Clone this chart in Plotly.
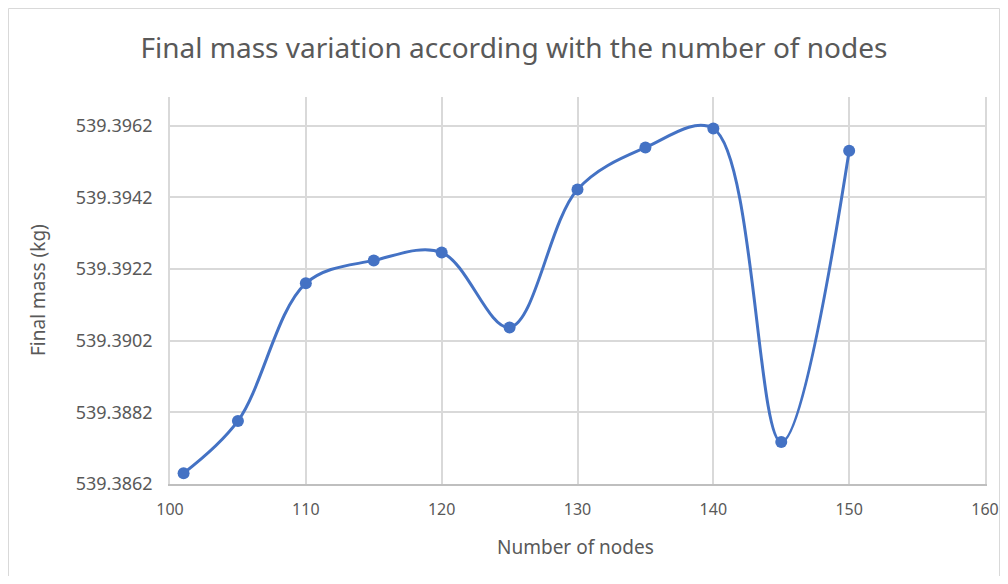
import plotly.graph_objects as go

nodes = [101, 105, 110, 115, 120, 125, 130, 135, 140, 145, 150]
final_mass = [539.38650, 539.38796, 539.39180, 539.39244, 539.39266, 539.39057,
              539.39442, 539.39559, 539.39612, 539.38737, 539.39550]

y_ticks = [539.3862, 539.3882, 539.3902, 539.3922, 539.3942, 539.3962]
x_ticks = [100, 110, 120, 130, 140, 150, 160]

# page has an 8px body margin; keep the figure inside the window
W, H = 992, 568
ml, mr, mt, mb = 162, 15, 89, 92
pw = W - ml - mr
ph = H - mt - mb

fig = go.Figure()
fig.add_trace(go.Scatter(
    x=nodes, y=final_mass, mode="lines+markers",
    line=dict(color="#4472C4", width=3, shape="spline", smoothing=1.0),
    marker=dict(color="#4472C4", size=12),
    showlegend=False,
))

fig.add_shape(type="rect", xref="paper", yref="paper",
              x0=(0.5 - ml) / pw, x1=(991.5 - ml) / pw,
              y0=1 - (600 - mt) / ph, y1=1 - (0.5 - mt) / ph,
              line=dict(color="#D9D9D9", width=1), fillcolor="rgba(0,0,0,0)", layer="below")

fig.add_annotation(text="Number of nodes", xref="paper", yref="paper",
                   x=(567 - ml) / pw, y=-(539 - (H - mb)) / ph,
                   xanchor="center", yanchor="middle", showarrow=False,
                   font=dict(size=19, color="#595959"))
fig.add_annotation(text="Final mass (kg)", xref="paper", yref="paper",
                   x=(30 - ml) / pw, y=1 - (282 - mt) / ph, textangle=-90,
                   xanchor="center", yanchor="middle", showarrow=False,
                   font=dict(size=19, color="#595959"))

fig.update_layout(
    width=W, height=H,
    margin=dict(l=ml, r=mr, t=mt, b=mb, autoexpand=False),
    paper_bgcolor="white", plot_bgcolor="white",
    font=dict(family="Noto Sans", color="#595959"),
    title=dict(text="Final mass variation according with the number of nodes",
               x=506 / W, xanchor="center", y=1 - 40 / H, yanchor="middle",
               font=dict(size=28, color="#595959")),
    xaxis=dict(range=[100, 160], tickvals=x_ticks, ticktext=[str(v) for v in x_ticks],
               automargin=False,
               showgrid=True, gridcolor="#D9D9D9", gridwidth=1.5,
               showline=True, linecolor="#BFBFBF", linewidth=1.5,
               zeroline=False, ticks="", ticklabelstandoff=10,
               ticklabeloverflow="allow",
               tickfont=dict(size=16, color="#595959")),
    yaxis=dict(range=[539.3862, 539.3970], tickvals=y_ticks,
               ticktext=[f"{v:.4f}" for v in y_ticks],
               automargin=False,
               showgrid=True, gridcolor="#D9D9D9", gridwidth=1.5,
               showline=True, mirror=True, linecolor="#D9D9D9", linewidth=1.5,
               zeroline=False, ticks="", ticklabelstandoff=12,
               tickfont=dict(size=18, color="#595959")),
)

fig.write_html("out.html", config={"displayModeBar": False})
